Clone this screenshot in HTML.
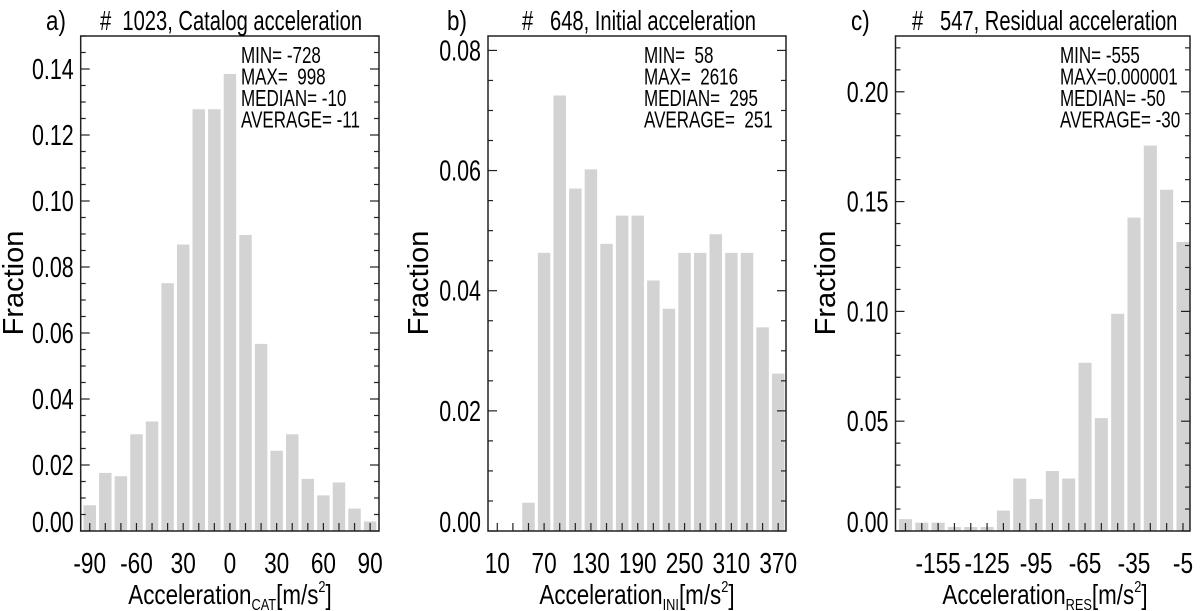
<!DOCTYPE html>
<html><head><meta charset="utf-8">
<style>
html,body{margin:0;padding:0;background:#fff;}
svg{display:block;}
text{font-family:"Liberation Sans",sans-serif;fill:#000;white-space:pre;}
</style></head>
<body>
<svg id="fig" width="1200" height="611" viewBox="0 0 1200 611" xmlns="http://www.w3.org/2000/svg" xml:space="preserve"></svg>
<script>
// Panel a: catalog acceleration
const catBins = [-90,-80,-70,-60,-50,-40,-30,-20,-10,0,10,20,30,40,50,60,70,80,90];
const catValues = [0.0078,0.0176,0.0166,0.0293,0.0332,0.0751,0.0868,0.1278,0.1278,0.1385,0.0897,0.0567,0.0243,0.0293,0.0158,0.0108,0.0147,0.0068,0.0029];
const catXTicks = [-90,-60,-30,0,30,60,90];
const catXTickLabels = ["-90","-60","30","0","30","60","90"];
const catYTicks = [0,0.02,0.04,0.06,0.08,0.10,0.12,0.14];
const catStats = ["MIN= -728","MAX=  998","MEDIAN= -10","AVERAGE= -11"];
// Panel b: initial acceleration
const iniBins = [10,30,50,70,90,110,130,150,170,190,210,230,250,270,290,310,330,350,370];
const iniValues = [0,0,0.0047,0.0463,0.0725,0.0570,0.0602,0.0478,0.0525,0.0525,0.0417,0.0370,0.0463,0.0463,0.0494,0.0463,0.0463,0.0339,0.0262];
const iniXTicks = [10,70,130,190,250,310,370];
const iniXTickLabels = ["10","70","130","190","250","310","370"];
const iniYTicks = [0,0.02,0.04,0.06,0.08];
const iniStats = ["MIN=  58","MAX=  2616","MEDIAN=  295","AVERAGE=  251"];
// Panel c: residual acceleration
const resBins = [-175,-165,-155,-145,-135,-125,-115,-105,-95,-85,-75,-65,-55,-45,-35,-25,-15,-5];
const resValues = [0.0054,0.0038,0.0038,0.0018,0.0018,0.0018,0.0093,0.0239,0.0146,0.0273,0.0239,0.0766,0.0514,0.0989,0.1427,0.1755,0.1554,0.1316];
const resXTicks = [-155,-125,-95,-65,-35,-5];
const resXTickLabels = ["-155","-125","-95","-65","-35","-5"];
const resYTicks = [0,0.05,0.10,0.15,0.20];
const resStats = ["MIN= -555","MAX=0.000001","MEDIAN= -50","AVERAGE= -30"];

const NS = "http://www.w3.org/2000/svg";
const fig = document.getElementById('fig');
function mk(tag, attrs, parent){
  const e = document.createElementNS(NS, tag);
  for (const k in attrs) e.setAttribute(k, attrs[k]);
  parent.appendChild(e);
  return e;
}
function ctext(parent, x, y, str, size, anchor, sx){
  const t = mk('text', {transform:`translate(${x},${y}) scale(${sx},1)`, 'font-size':size, 'text-anchor':anchor}, parent);
  t.textContent = str;
  return t;
}
const TOP = 36, BOT = 531;

function panel(cfg){
  const g = mk('g', {}, fig);
  
  
  const L = cfg.left, R = cfg.right;
  const xs = v => L + (v - cfg.xmin) / (cfg.xmax - cfg.xmin) * (R - L);
  const ys = v => BOT - v / cfg.ymax * (BOT - TOP);
  const step = cfg.bins[1] - cfg.bins[0];
  const bw = (xs(step) - xs(0)) * 0.8;
  cfg.bins.forEach((b, i) => {
    const v = cfg.values[i];
    if (v <= 0) return;
    const r = mk('rect', {x: xs(b) - bw/2, y: ys(v), width: bw, height: BOT - ys(v), fill: '#d3d3d3'}, g);
    
    
  });
  const fr = mk('rect', {x: L, y: TOP, width: R - L, height: BOT - TOP, fill: 'none', stroke: '#222', 'stroke-width': 1.5}, g);
  
  
  for (let v = 0; v <= cfg.ymax + 1e-9; v += cfg.yminor) {
    const y = ys(v);
    const isMajor = cfg.yTicks.some(t => Math.abs(t - v) < 1e-6);
    const len = isMajor ? 9 : 5;
    mk('line', {x1: L, x2: L + len, y1: y, y2: y, stroke: '#222', 'stroke-width': 1.2}, g);
    mk('line', {x1: R, x2: R - len, y1: y, y2: y, stroke: '#222', 'stroke-width': 1.2}, g);
  }
  cfg.yTicks.forEach(v => {
    const y = Math.min(ys(v) + 10, BOT + 1);
    const t = ctext(g, L - 7, y, v.toFixed(2), 29, 'end', 0.74);
    
    
  });
  cfg.bins.forEach(b => {
    mk('line', {x1: xs(b), x2: xs(b), y1: BOT, y2: BOT - 8, stroke: '#222', 'stroke-width': 1.2}, g);
  });
  cfg.xTicks.forEach((v, i) => {
    const t = ctext(g, xs(v), 573, cfg.xTickLabels[i], 29, 'middle', 0.78);
    
    
  });
  const pl = ctext(g, cfg.letterX, 30, cfg.letter, 28, 'start', 0.8);
  
  
  const tt = ctext(g, cfg.titleX, 30, cfg.title, 28, 'start', 0.72);
  
  
  cfg.stats.forEach((s, i) => {
    const st = ctext(g, cfg.statsX, 63 + i * 21.5, s, 23, 'start', 0.74);
    
    
  });
  const ya = mk('text', {transform: `translate(${cfg.fracX},283) rotate(-90)`, 'font-size': 29, 'text-anchor': 'middle'}, g);
  ya.textContent = 'Fraction';
  
  
  const xa = mk('text', {transform: `translate(${cfg.xTitleX},604) scale(0.8,1)`, 'font-size': 28, 'text-anchor': 'middle'}, g);
  
  
  const s1 = mk('tspan', {}, xa); s1.textContent = 'Acceleration';
  const s2 = mk('tspan', {'font-size': 16, dy: 6}, xa); s2.textContent = cfg.sub;
  const s3 = mk('tspan', {dy: -6}, xa); s3.textContent = '[m/s';
  const s4 = mk('tspan', {'font-size': 16, dy: -12}, xa); s4.textContent = '2';
  const s5 = mk('tspan', {dy: 12}, xa); s5.textContent = ']';
}

panel({name:'panel-a-catalog', key:'cat', left:80.7, right:379, xmin:-95.8, xmax:95.7, ymax:0.15, yminor:0.005,
  bins:catBins, values:catValues, xTicks:catXTicks, xTickLabels:catXTickLabels, yTicks:catYTicks, stats:catStats,
  letter:'a)', letterX:46, title:'#  1023, Catalog acceleration', titleX:100, statsX:241, fracX:23, xTitleX:230, sub:'CAT'});
panel({name:'panel-b-initial', key:'ini', left:488, right:786, xmin:-1.9, xmax:380, ymax:0.0824, yminor:0.005,
  bins:iniBins, values:iniValues, xTicks:iniXTicks, xTickLabels:iniXTickLabels, yTicks:iniYTicks, stats:iniStats,
  letter:'b)', letterX:447, title:'#   648, Initial acceleration', titleX:522, statsX:644, fracX:428, xTitleX:637, sub:'INI'});
panel({name:'panel-c-residual', key:'res', left:895.5, right:1190, xmin:-181.1, xmax:-0.7, ymax:0.2254, yminor:0.01,
  bins:resBins, values:resValues, xTicks:resXTicks, xTickLabels:resXTickLabels, yTicks:resYTicks, stats:resStats,
  letter:'c)', letterX:851, title:'#   547, Residual acceleration', titleX:912, statsX:1060, fracX:835, xTitleX:1045, sub:'RES'});
</script>
</body></html>
